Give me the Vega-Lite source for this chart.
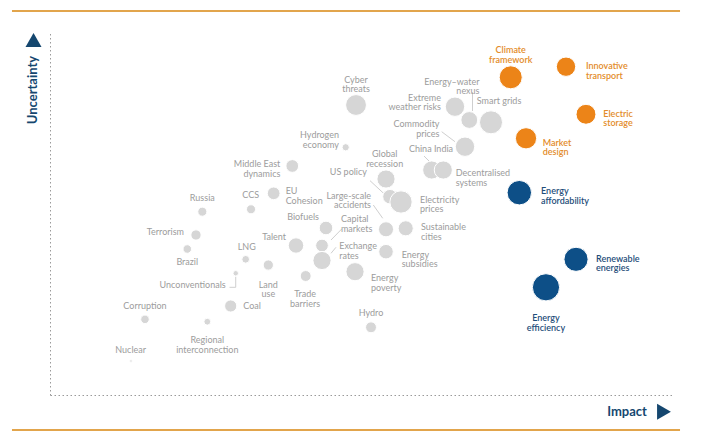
{
  "$schema": "https://vega.github.io/schema/vega-lite/v6.json",
  "width": 622,
  "height": 363,
  "autosize": {"type": "none"},
  "padding": {"left": 50, "top": 32, "right": 42, "bottom": 49},
  "background": "white",
  "config": {
    "view": {"stroke": null},
    "font": "Lato",
    "axis": {"domainDash": [1.5, 2.5], "domainColor": "#9a9a9a", "domainWidth": 1, "ticks": false, "labels": false, "grid": false}
  },
  "datasets": {
    "risks": [
      {"name": "Climate\nframework", "impact": 74.07, "uncertainty": 87.52, "weight": 161, "category": "Critical uncertainty", "lx": 74.07, "ly": 94.96, "anchor": "center"},
      {"name": "Innovative\ntransport", "impact": 82.96, "uncertainty": 90.44, "weight": 114, "category": "Critical uncertainty", "lx": 86.17, "ly": 90.55, "anchor": "left"},
      {"name": "Electric\nstorage", "impact": 86.17, "uncertainty": 77.33, "weight": 121, "category": "Critical uncertainty", "lx": 88.95, "ly": 77.49, "anchor": "left"},
      {"name": "Market\ndesign", "impact": 76.53, "uncertainty": 70.72, "weight": 137, "category": "Critical uncertainty", "lx": 79.21, "ly": 69.48, "anchor": "left"},
      {"name": "Energy\naffordability", "impact": 75.45, "uncertainty": 55.73, "weight": 182, "category": "Key trend", "lx": 78.94, "ly": 56.14, "anchor": "left"},
      {"name": "Renewable\nenergies", "impact": 84.57, "uncertainty": 37.38, "weight": 177, "category": "Key trend", "lx": 87.78, "ly": 37.55, "anchor": "left"},
      {"name": "Energy\nefficiency", "impact": 79.74, "uncertainty": 29.67, "weight": 225, "category": "Key trend", "lx": 79.74, "ly": 21.21, "anchor": "center"},
      {"name": "Cyber\nthreats", "impact": 49.2, "uncertainty": 79.89, "weight": 132, "category": "Other", "lx": 49.2, "ly": 86.91, "anchor": "center"},
      {"name": "Hydrogen\neconomy", "impact": 47.54, "uncertainty": 68.24, "weight": 16, "category": "Other", "lx": 46.46, "ly": 71.54, "anchor": "right"},
      {"name": "Energy–water\nnexus", "impact": 67.41, "uncertainty": 75.76, "weight": 86, "category": "Other", "lx": 69.05, "ly": 86.23, "anchor": "right"},
      {"name": "Extreme\nweather risks", "impact": 65.11, "uncertainty": 79.42, "weight": 114, "category": "Other", "lx": 62.86, "ly": 81.87, "anchor": "right"},
      {"name": "Smart grids", "impact": 70.9, "uncertainty": 75.12, "weight": 161, "category": "Other", "lx": 72.19, "ly": 81.07, "anchor": "center"},
      {"name": "Commodity\nprices", "impact": 66.72, "uncertainty": 68.4, "weight": 114, "category": "Other", "lx": 62.62, "ly": 74.52, "anchor": "right"},
      {"name": "China India", "impact": 61.37, "uncertainty": 61.98, "weight": 100, "category": "Other", "lx": 61.25, "ly": 67.69, "anchor": "center"},
      {"name": "Decentralised\nsystems", "impact": 63.23, "uncertainty": 61.98, "weight": 100, "category": "Other", "lx": 65.23, "ly": 61.1, "anchor": "left"},
      {"name": "Global\nrecession", "impact": 54.02, "uncertainty": 59.5, "weight": 100, "category": "Other", "lx": 53.81, "ly": 66.39, "anchor": "center"},
      {"name": "US policy", "impact": 54.66, "uncertainty": 54.63, "weight": 64, "category": "Other", "lx": 50.96, "ly": 61.35, "anchor": "right"},
      {"name": "Electricity\nprices", "impact": 56.43, "uncertainty": 53.17, "weight": 151, "category": "Other", "lx": 59.49, "ly": 53.8, "anchor": "left"},
      {"name": "Large-scale\naccidents", "impact": 54.02, "uncertainty": 45.65, "weight": 69, "category": "Other", "lx": 51.61, "ly": 54.88, "anchor": "right"},
      {"name": "Sustainable\ncities", "impact": 57.19, "uncertainty": 45.92, "weight": 69, "category": "Other", "lx": 59.65, "ly": 46.23, "anchor": "left"},
      {"name": "Capital\nmarkets", "impact": 43.73, "uncertainty": 41.18, "weight": 49, "category": "Other", "lx": 46.78, "ly": 48.35, "anchor": "left"},
      {"name": "Biofuels", "impact": 44.37, "uncertainty": 46.01, "weight": 56, "category": "Other", "lx": 43.25, "ly": 49.12, "anchor": "right"},
      {"name": "Exchange\nrates", "impact": 43.73, "uncertainty": 37.05, "weight": 100, "category": "Other", "lx": 46.51, "ly": 40.99, "anchor": "left"},
      {"name": "Energy\nsubsidies", "impact": 54.02, "uncertainty": 39.48, "weight": 64, "category": "Other", "lx": 56.54, "ly": 38.65, "anchor": "left"},
      {"name": "Energy\npoverty", "impact": 49.04, "uncertainty": 33.97, "weight": 100, "category": "Other", "lx": 51.61, "ly": 32.23, "anchor": "left"},
      {"name": "Hydro", "impact": 51.61, "uncertainty": 18.65, "weight": 36, "category": "Other", "lx": 51.61, "ly": 22.51, "anchor": "center"},
      {"name": "Middle East\ndynamics", "impact": 38.95, "uncertainty": 63.09, "weight": 49, "category": "Other", "lx": 37.03, "ly": 63.55, "anchor": "right"},
      {"name": "EU\nCohesion", "impact": 35.96, "uncertainty": 55.56, "weight": 49, "category": "Other", "lx": 37.89, "ly": 56.12, "anchor": "left"},
      {"name": "CCS", "impact": 32.32, "uncertainty": 51.16, "weight": 25, "category": "Other", "lx": 32.27, "ly": 55.1, "anchor": "center"},
      {"name": "Russia", "impact": 24.49, "uncertainty": 50.5, "weight": 25, "category": "Other", "lx": 24.49, "ly": 54.35, "anchor": "center"},
      {"name": "Terrorism", "impact": 23.47, "uncertainty": 44.08, "weight": 32, "category": "Other", "lx": 21.54, "ly": 44.82, "anchor": "right"},
      {"name": "Brazil", "impact": 22.07, "uncertainty": 40.22, "weight": 22, "category": "Other", "lx": 22.07, "ly": 36.56, "anchor": "center"},
      {"name": "Talent", "impact": 39.55, "uncertainty": 41.18, "weight": 72, "category": "Other", "lx": 37.94, "ly": 43.44, "anchor": "right"},
      {"name": "LNG", "impact": 31.46, "uncertainty": 37.38, "weight": 18, "category": "Other", "lx": 31.62, "ly": 40.85, "anchor": "center"},
      {"name": "Land\nuse", "impact": 35.1, "uncertainty": 35.81, "weight": 32, "category": "Other", "lx": 35.1, "ly": 30.44, "anchor": "center"},
      {"name": "Unconventionals", "impact": 29.86, "uncertainty": 33.53, "weight": 9, "category": "Other", "lx": 28.25, "ly": 30.3, "anchor": "right"},
      {"name": "Trade\nbarriers", "impact": 41.11, "uncertainty": 32.78, "weight": 36, "category": "Other", "lx": 41.0, "ly": 27.69, "anchor": "center"},
      {"name": "Coal", "impact": 29.05, "uncertainty": 24.52, "weight": 45, "category": "Other", "lx": 31.08, "ly": 24.52, "anchor": "left"},
      {"name": "Corruption", "impact": 15.27, "uncertainty": 20.85, "weight": 22, "category": "Other", "lx": 15.27, "ly": 24.52, "anchor": "center"},
      {"name": "Regional\ninterconnection", "impact": 25.29, "uncertainty": 20.19, "weight": 14, "category": "Other", "lx": 25.29, "ly": 15.15, "anchor": "center"},
      {"name": "Nuclear", "impact": 13.02, "uncertainty": 9.37, "weight": 2, "category": "Other", "lx": 12.97, "ly": 12.4, "anchor": "center"}
    ],
    "leaders": [
      {"x1": 67.93, "y1": 83.47, "x2": 67.93, "y2": 78.24},
      {"x1": 62.97, "y1": 72.53, "x2": 65.11, "y2": 69.78},
      {"x1": 60.13, "y1": 65.84, "x2": 61.09, "y2": 64.19},
      {"x1": 51.45, "y1": 59.04, "x2": 53.75, "y2": 55.37},
      {"x1": 51.98, "y1": 52.34, "x2": 53.49, "y2": 48.68},
      {"x1": 46.9, "y1": 45.73, "x2": 45.18, "y2": 42.7},
      {"x1": 45.98, "y1": 40.69, "x2": 45.18, "y2": 39.04},
      {"x1": 29.86, "y1": 32.59, "x2": 29.86, "y2": 29.67},
      {"x1": 29.86, "y1": 29.67, "x2": 28.86, "y2": 29.67}
    ],
    "frame": [
      {"x1": -6.11, "x2": 101.29, "y": 105.79},
      {"x1": -6.11, "x2": 101.29, "y": -9.64}
    ],
    "titles": [
      {"title": "Uncertainty", "x": -2.73, "y": 84.02, "dir": "up", "ax": -2.65, "ay": 97.8},
      {"title": "Impact", "x": 92.77, "y": -4.6, "dir": "right", "ax": 98.71, "ay": -4.6}
    ]
  },
  "resolve": {"scale": {"color": "independent"}},
  "layer": [
    {
      "data": {"name": "frame"},
      "mark": {"type": "rule", "color": "#e2a54c", "strokeWidth": 2},
      "encoding": {
        "x": {"field": "x1", "type": "quantitative", "title": null, "scale": {"domain": [0, 100], "nice": false, "zero": false}},
        "x2": {"field": "x2"},
        "y": {"field": "y", "type": "quantitative", "title": null, "scale": {"domain": [0, 100], "nice": false, "zero": false}}
      }
    },
    {
      "data": {"name": "leaders"},
      "mark": {"type": "rule", "color": "#cfcfcf", "strokeWidth": 1},
      "encoding": {
        "x": {"field": "x1", "type": "quantitative", "title": null, "scale": {"domain": [0, 100], "nice": false, "zero": false}},
        "x2": {"field": "x2"},
        "y": {"field": "y1", "type": "quantitative", "title": null, "scale": {"domain": [0, 100], "nice": false, "zero": false}},
        "y2": {"field": "y2"}
      }
    },
    {
      "data": {"name": "risks"},
      "mark": {"type": "circle", "opacity": 1, "stroke": "white", "strokeWidth": 1},
      "encoding": {
        "x": {"field": "impact", "type": "quantitative", "title": null, "scale": {"domain": [0, 100], "nice": false, "zero": false}},
        "y": {"field": "uncertainty", "type": "quantitative", "title": null, "scale": {"domain": [0, 100], "nice": false, "zero": false}},
        "size": {"field": "weight", "type": "quantitative", "scale": {"type": "linear", "domain": [0, 225], "range": [0, 740]}, "legend": null},
        "color": {"field": "category", "type": "nominal", "scale": {"domain": ["Critical uncertainty", "Key trend", "Other"], "range": ["#ec8418", "#0d4f87", "#d6d6d6"]}, "legend": null}
      }
    },
    {
      "data": {"name": "risks"},
      "transform": [{"filter": "datum.anchor === 'left' && datum.category === 'Other'"}],
      "mark": {"type": "text", "align": "left", "baseline": "middle", "fontSize": 9, "lineHeight": 9.5, "lineBreak": "\n", "color": "#9c9c9c"},
      "encoding": {
        "x": {"field": "lx", "type": "quantitative", "title": null, "scale": {"domain": [0, 100], "nice": false, "zero": false}},
        "y": {"field": "ly", "type": "quantitative", "title": null, "scale": {"domain": [0, 100], "nice": false, "zero": false}},
        "text": {"field": "name"}
      }
    },
    {
      "data": {"name": "risks"},
      "transform": [{"filter": "datum.anchor === 'right' && datum.category === 'Other'"}],
      "mark": {"type": "text", "align": "right", "baseline": "middle", "fontSize": 9, "lineHeight": 9.5, "lineBreak": "\n", "color": "#9c9c9c"},
      "encoding": {
        "x": {"field": "lx", "type": "quantitative", "title": null, "scale": {"domain": [0, 100], "nice": false, "zero": false}},
        "y": {"field": "ly", "type": "quantitative", "title": null, "scale": {"domain": [0, 100], "nice": false, "zero": false}},
        "text": {"field": "name"}
      }
    },
    {
      "data": {"name": "risks"},
      "transform": [{"filter": "datum.anchor === 'center' && datum.category === 'Other'"}],
      "mark": {"type": "text", "align": "center", "baseline": "middle", "fontSize": 9, "lineHeight": 9.5, "lineBreak": "\n", "color": "#9c9c9c"},
      "encoding": {
        "x": {"field": "lx", "type": "quantitative", "title": null, "scale": {"domain": [0, 100], "nice": false, "zero": false}},
        "y": {"field": "ly", "type": "quantitative", "title": null, "scale": {"domain": [0, 100], "nice": false, "zero": false}},
        "text": {"field": "name"}
      }
    },
    {
      "data": {"name": "risks"},
      "transform": [{"filter": "datum.anchor === 'left' && datum.category !== 'Other'"}],
      "mark": {"type": "text", "align": "left", "baseline": "middle", "fontSize": 9, "fontWeight": 600, "lineHeight": 9.5, "lineBreak": "\n"},
      "encoding": {
        "x": {"field": "lx", "type": "quantitative", "title": null, "scale": {"domain": [0, 100], "nice": false, "zero": false}},
        "y": {"field": "ly", "type": "quantitative", "title": null, "scale": {"domain": [0, 100], "nice": false, "zero": false}},
        "text": {"field": "name"},
        "color": {"field": "category", "type": "nominal", "scale": {"domain": ["Critical uncertainty", "Key trend"], "range": ["#e38c2a", "#1f4e7a"]}, "legend": null}
      }
    },
    {
      "data": {"name": "risks"},
      "transform": [{"filter": "datum.anchor === 'center' && datum.category !== 'Other'"}],
      "mark": {"type": "text", "align": "center", "baseline": "middle", "fontSize": 9, "fontWeight": 600, "lineHeight": 9.5, "lineBreak": "\n"},
      "encoding": {
        "x": {"field": "lx", "type": "quantitative", "title": null, "scale": {"domain": [0, 100], "nice": false, "zero": false}},
        "y": {"field": "ly", "type": "quantitative", "title": null, "scale": {"domain": [0, 100], "nice": false, "zero": false}},
        "text": {"field": "name"},
        "color": {"field": "category", "type": "nominal", "scale": {"domain": ["Critical uncertainty", "Key trend"], "range": ["#e38c2a", "#1f4e7a"]}, "legend": null}
      }
    },
    {
      "data": {"name": "titles"},
      "transform": [{"filter": "datum.dir === 'up'"}],
      "mark": {"type": "text", "angle": 270, "align": "center", "baseline": "middle", "fontSize": 13, "fontWeight": "bold", "color": "#15476f"},
      "encoding": {
        "x": {"field": "x", "type": "quantitative", "title": null, "scale": {"domain": [0, 100], "nice": false, "zero": false}},
        "y": {"field": "y", "type": "quantitative", "title": null, "scale": {"domain": [0, 100], "nice": false, "zero": false}},
        "text": {"field": "title"}
      }
    },
    {
      "data": {"name": "titles"},
      "transform": [{"filter": "datum.dir === 'right'"}],
      "mark": {"type": "text", "align": "center", "baseline": "middle", "fontSize": 13, "fontWeight": "bold", "color": "#15476f"},
      "encoding": {
        "x": {"field": "x", "type": "quantitative", "title": null, "scale": {"domain": [0, 100], "nice": false, "zero": false}},
        "y": {"field": "y", "type": "quantitative", "title": null, "scale": {"domain": [0, 100], "nice": false, "zero": false}},
        "text": {"field": "title"}
      }
    },
    {
      "data": {"name": "titles"},
      "mark": {"type": "point", "filled": true, "opacity": 1, "size": 256, "color": "#15476f"},
      "encoding": {
        "x": {"field": "ax", "type": "quantitative", "title": null, "scale": {"domain": [0, 100], "nice": false, "zero": false}},
        "y": {"field": "ay", "type": "quantitative", "title": null, "scale": {"domain": [0, 100], "nice": false, "zero": false}},
        "shape": {"field": "dir", "type": "nominal", "scale": {"domain": ["up", "right"], "range": ["triangle-up", "triangle-right"]}, "legend": null}
      }
    }
  ]
}
